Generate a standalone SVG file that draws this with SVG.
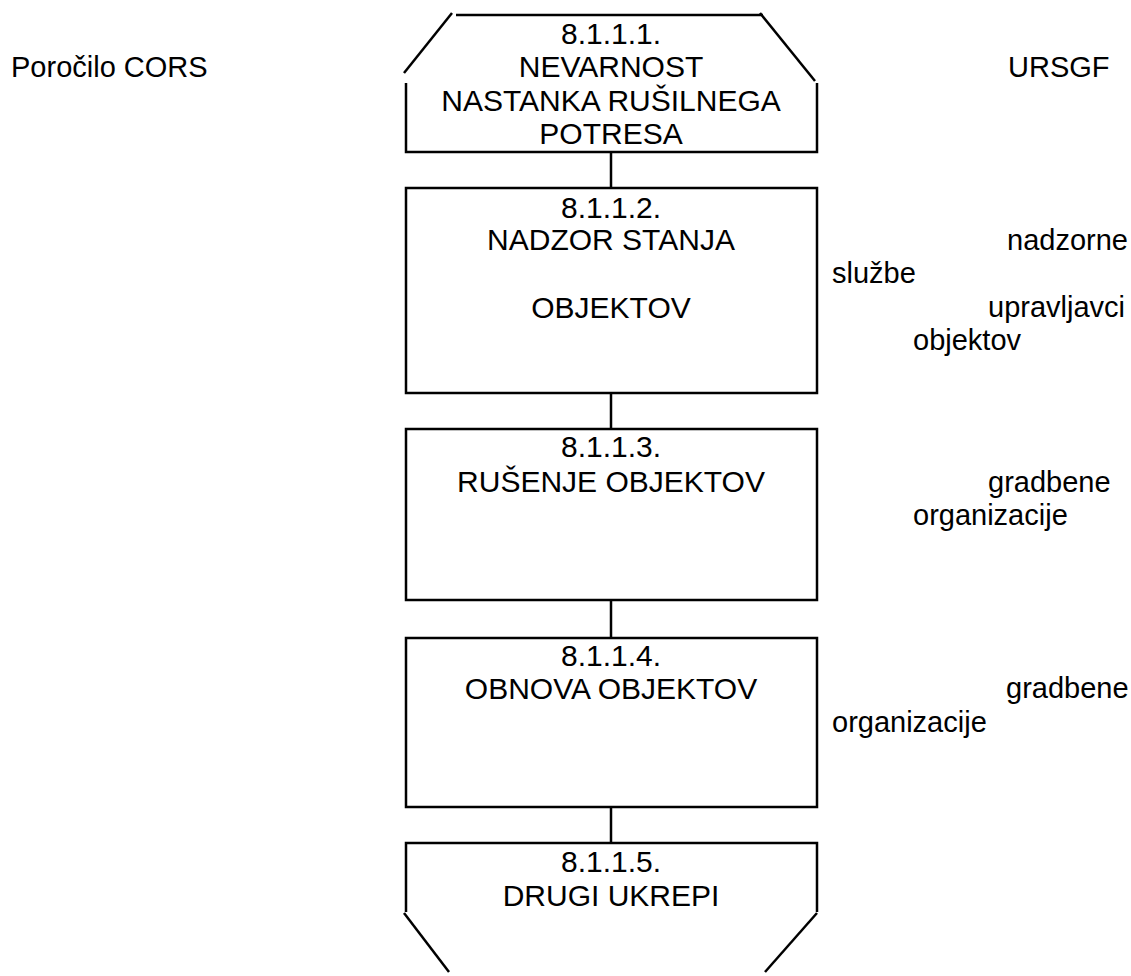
<svg xmlns="http://www.w3.org/2000/svg" width="1131" height="976" viewBox="0 0 1131 976">
<style>
.s{fill:none;stroke:#000;stroke-width:2.5}
text{font-family:"Liberation Sans",Arial,sans-serif;font-size:29px;fill:#000}
.c{text-anchor:middle;font-size:30px}
</style>
<rect width="1131" height="976" fill="#fff"/>
<g id="connectors" class="s">
<line x1="611" y1="152" x2="611" y2="188"/>
<line x1="611" y1="393" x2="611" y2="429"/>
<line x1="611" y1="600" x2="611" y2="638"/>
<line x1="611" y1="807" x2="611" y2="843"/>
</g>
<g id="n1">
<g class="s">
<line x1="456" y1="15" x2="763" y2="15"/>
<line x1="452" y1="13" x2="404" y2="73"/>
<line x1="760" y1="13" x2="815" y2="81"/>
<polyline points="406,83 406,152 817,152 817,83"/>
</g>
<text class="c" x="611" y="43.5">8.1.1.1.</text>
<text class="c" x="611" y="77">NEVARNOST</text>
<text class="c" x="611" y="110.5">NASTANKA RUŠILNEGA</text>
<text class="c" x="611" y="144">POTRESA</text>
</g>
<g id="n2">
<rect class="s" x="406" y="188" width="411" height="205"/>
<text class="c" x="611" y="218">8.1.1.2.</text>
<text class="c" x="611" y="250">NADZOR STANJA</text>
<text class="c" x="611" y="318">OBJEKTOV</text>
</g>
<g id="n3">
<rect class="s" x="406" y="429" width="411" height="171"/>
<text class="c" x="611" y="457">8.1.1.3.</text>
<text class="c" x="611" y="491.5">RUŠENJE OBJEKTOV</text>
</g>
<g id="n4">
<rect class="s" x="406" y="638" width="411" height="169"/>
<text class="c" x="611" y="666">8.1.1.4.</text>
<text class="c" x="611" y="698.5">OBNOVA OBJEKTOV</text>
</g>
<g id="n5">
<g class="s">
<polyline points="406,912 406,843 817,843 817,912"/>
<line x1="404" y1="913" x2="449" y2="972"/>
<line x1="817" y1="913" x2="765" y2="972"/>
</g>
<text class="c" x="611" y="872">8.1.1.5.</text>
<text class="c" x="611" y="906">DRUGI UKREPI</text>
</g>
<g id="labels">
<text x="11" y="77">Poročilo CORS</text>
<text x="1008" y="77">URSGF</text>
<text x="1007" y="250">nadzorne</text>
<text x="832" y="283">službe</text>
<text x="988" y="317">upravljavci</text>
<text x="913" y="350">objektov</text>
<text x="988" y="492">gradbene</text>
<text x="913" y="525">organizacije</text>
<text x="1006" y="698">gradbene</text>
<text x="832" y="732">organizacije</text>
</g>
</svg>
